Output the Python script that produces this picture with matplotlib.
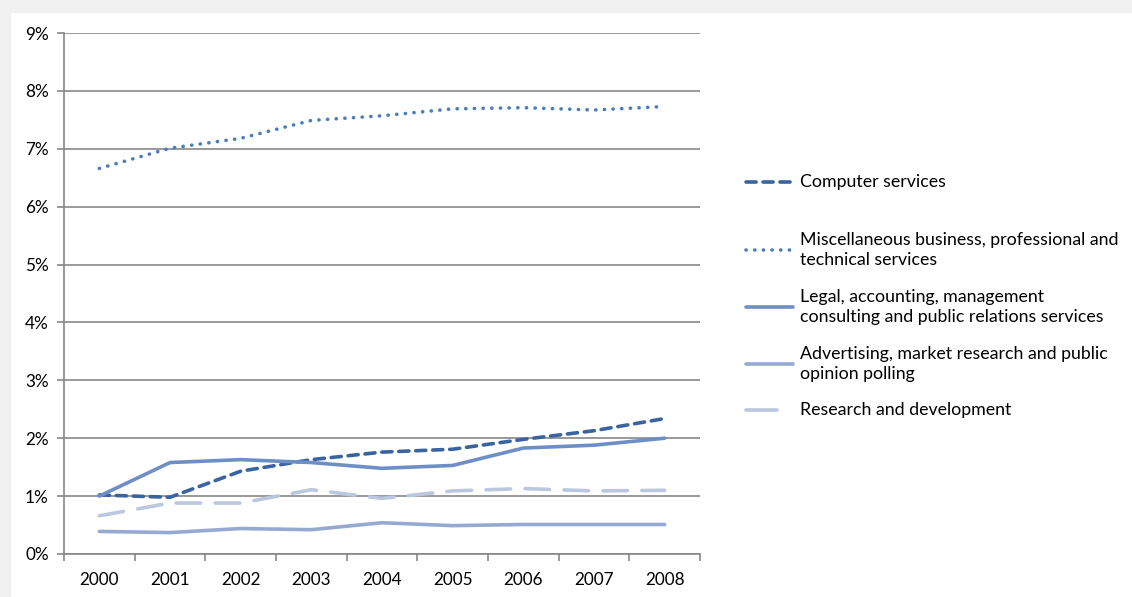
import matplotlib
matplotlib.use("Agg")
import matplotlib.pyplot as plt
from matplotlib.lines import Line2D
import numpy as np

plt.rcParams['font.family'] = ['Lato', 'DejaVu Sans']

# Data (share of total, %)
years = ['2000', '2001', '2002', '2003', '2004', '2005', '2006', '2007', '2008']
computer = [1.02, 0.98, 1.43, 1.63, 1.76, 1.81, 1.98, 2.13, 2.34]
misc = [6.66, 7.01, 7.18, 7.49, 7.57, 7.69, 7.71, 7.67, 7.73]
legal = [1.00, 1.58, 1.63, 1.58, 1.48, 1.53, 1.83, 1.88, 2.00]
advertising = [0.39, 0.37, 0.44, 0.42, 0.54, 0.49, 0.51, 0.51, 0.51]
research = [0.66, 0.88, 0.88, 1.11, 0.96, 1.09, 1.13, 1.09, 1.10]

labels = ['Computer services',
          'Miscellaneous business, professional and\ntechnical services',
          'Legal, accounting, management\nconsulting and public relations services',
          'Advertising, market research and public\nopinion polling',
          'Research and development']

# styles: colour, dash pattern (None = solid)
styles = [('#3A64A0', (2.8, 1.9)),
          ('#4A7EBB', (0.05, 2.35)),
          ('#6E8FC6', None),
          ('#95A9D1', None),
          ('#BAC7DF', (6.8, 4.0))]
LW = 2.6

fig = plt.figure(figsize=(11.32, 5.97), dpi=100)
fig.patch.set_facecolor('white')
# light grey frame at top and left
fig.add_artist(plt.Rectangle((0, 1 - 12 / 597), 1, 12 / 597, transform=fig.transFigure,
                             color='#F0F0F0', zorder=0))
fig.add_artist(plt.Rectangle((0, 0), 10 / 1132, 1, transform=fig.transFigure,
                             color='#F0F0F0', zorder=0))

ax = fig.add_axes([64 / 1132, 43 / 597, 636 / 1132, 521 / 597])
ax.set_facecolor('none')

x = np.arange(len(years))
series = [computer, misc, legal, advertising, research]
for vals, (col, dash), lab in zip(series, styles, labels):
    line, = ax.plot(x, vals, color=col, lw=LW, solid_capstyle='round',
                    dash_capstyle='round', label=lab, zorder=3)
    if dash is not None:
        line.set_dashes(dash)

ax.set_xlim(-0.5, 8.5)
ax.set_ylim(0, 9)
ax.set_yticks(np.arange(0, 10, 1))
ax.set_yticklabels([f'{v}%' for v in range(10)])
ax.grid(axis='y', color='#878787', lw=1.2, zorder=1)
ax.set_xticks(np.arange(-0.5, 9, 1))
ax.set_xticklabels([])
ax.set_xticks(x, minor=True)
ax.set_xticklabels(years, minor=True)
ax.tick_params(axis='x', which='major', length=5, color='#878787', width=1.2, direction='out')
ax.tick_params(axis='x', which='minor', length=0, pad=13, labelsize=12.3)
ax.tick_params(axis='y', length=5, color='#878787', width=1.2, pad=6, labelsize=12.3)
for s in ['top', 'right']:
    ax.spines[s].set_visible(False)
ax.spines['left'].set_color('#878787')
ax.spines['left'].set_linewidth(1.2)
ax.spines['bottom'].set_color('#878787')
ax.spines['bottom'].set_linewidth(1.2)

# legend drawn at the right, entry centres in pixels from top
entry_y = [182, 250, 307, 364, 410]
for i, ((col, dash), lab, yy) in enumerate(zip(styles, labels, entry_y)):
    fy = 1 - yy / 597
    xe = 793
    if i == 4:
        # long dash: only one dash fits in the legend key
        xe, dash = 777, None
    h = Line2D([746 / 1132, xe / 1132], [fy, fy], transform=fig.transFigure,
               color=col, lw=LW, solid_capstyle='round', dash_capstyle='round')
    if dash is not None:
        h.set_dashes(dash)
    fig.add_artist(h)
    fig.text(800 / 1132, fy, lab, ha='left', va='center', fontsize=12.8,
             linespacing=1.3, color='#000000')

fig.savefig('out.png', dpi=100, facecolor=fig.get_facecolor())
